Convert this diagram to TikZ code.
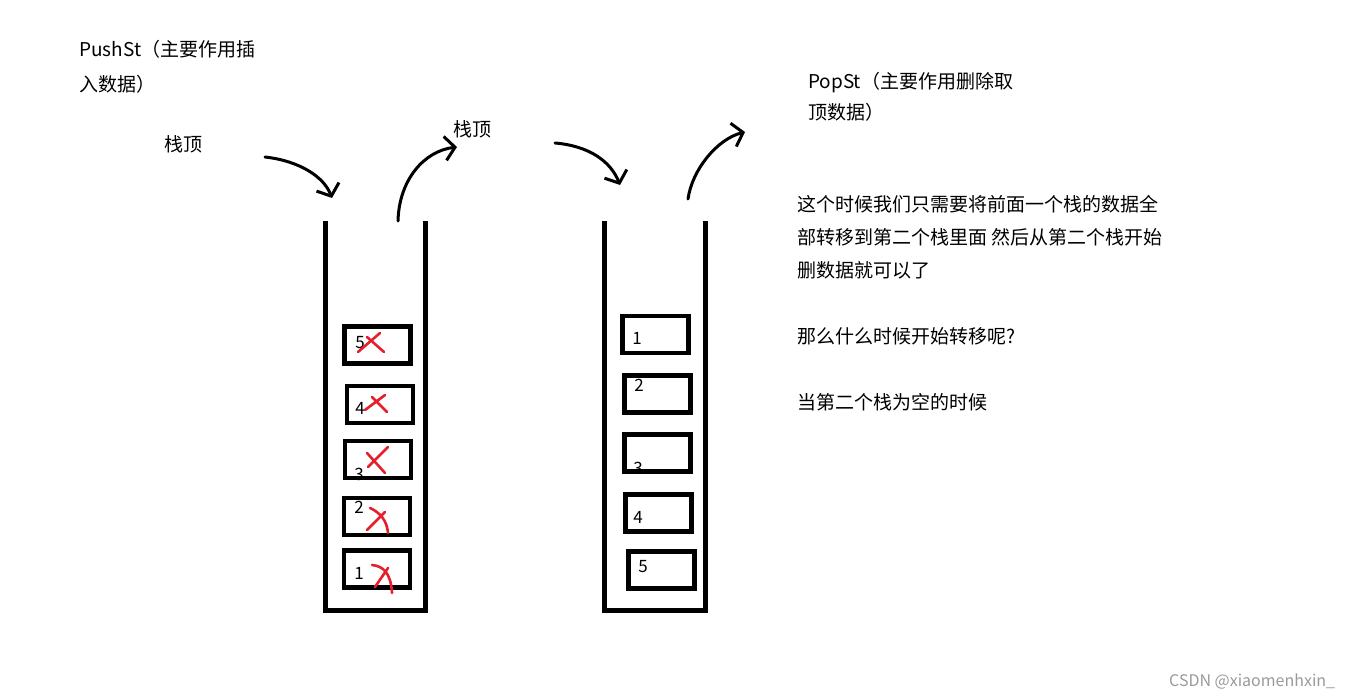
\documentclass[tikz,border=0pt]{standalone}
\usepackage{fontspec}
\usetikzlibrary{arrows.meta, calc}
\newfontfamily\cjk{Noto Sans CJK SC}
\definecolor{markRed}{HTML}{E3202C}
\definecolor{markGray}{HTML}{9A9A9A}
\tikzset{
    wall/.style={line width=5pt, line join=miter},
    slot/.style={rectangle, draw=black, line width=4.5pt, minimum width=66pt, minimum height=37pt, inner sep=0pt},
    num/.style={font=\cjk\fontsize{17}{20}\selectfont, inner sep=0pt},
    note/.style={font=\cjk\fontsize{19}{33}\selectfont, align=left, inner sep=0pt, anchor=base west},
    arrow/.style={-{Straight Barb[length=10pt, width=24pt]}, line width=3pt, line cap=round},
    xmark/.style={draw=markRed, line width=2.6pt, line cap=round},
}

\begin{document}
\begin{tikzpicture}[x=1pt, y=-1pt]
    \useasboundingbox (0,0) rectangle (1356,692);

    % titles and notes (base = last line)
    \node[note, font=\cjk\fontsize{19}{35}\selectfont] (pushTitle) at (79,92) {PushSt（主要作用插\\入数据）};
    \node[note, font=\cjk\fontsize{19}{31}\selectfont] (popTitle) at (808,120) {PopSt（主要作用删除取\\顶数据）};
    \node[note] (topIn) at (164,152) {栈顶};
    \node[note] (topOut) at (453,137) {栈顶};
    \node[note] (explain) at (797,409) {这个时候我们只需要将前面一个栈的数据全\\部转移到第二个栈里面 然后从第二个栈开始\\删数据就可以了\\[33pt]那么什么时候开始转移呢?\\[33pt]当第二个栈为空的时候};
    \node[font=\cjk\fontsize{16}{18}\selectfont, text=markGray, anchor=west, inner sep=0pt] (mark) at (1169,682) {CSDN @xiaomenhxin\_};

    % the two stacks
    \draw[wall] (325,221) -- (325,610) -- (425,610) -- (425,221);
    \draw[wall] (604,221) -- (604,610) -- (705,610) -- (705,221);

    % push stack
    \node[slot] (push5) at (377.5,345) {};
    \node[slot] (push4) at (380,404.5) {};
    \node[slot] (push3) at (378,459.5) {};
    \node[slot] (push2) at (377,516.5) {};
    \node[slot] (push1) at (377,569) {};
    \node[num] at (360,343) {5};
    \node[num] at (360,408) {4};
    \begin{scope}
        \clip (push3.south west) rectangle (push3.north east);
        \node[num] at (359,474) {3};
    \end{scope}
    \node[num] at (359,507) {2};
    \node[num] at (359,573) {1};

    % pop stack
    \node[slot] (pop1) at (655.5,334.5) {};
    \node[slot] (pop2) at (657.5,394) {};
    \node[slot] (pop3) at (657.5,453) {};
    \node[slot] (pop4) at (658.5,513) {};
    \node[slot] (pop5) at (661.5,570) {};
    \node[num] at (637,338) {1};
    \node[num] at (639,385) {2};
    \begin{scope}
        \clip (pop3.south west) rectangle (pop3.north east);
        \node[num] at (638,468) {3};
    \end{scope}
    \node[num] at (638,517) {4};
    \node[num] at (643,567) {5};

    % crossed out
    \draw[xmark, shift={(push5)}] (-19.5,7) -- (2.5,-12) (-10.5,-8) -- (6.5,7);
    \draw[xmark, shift={(push4)}] (-15,5.5) -- (5,-9.5) (-8,-7.5) -- (7,7.5);
    \draw[xmark, shift={(push3)}] (-10,7.5) -- (10,-12.5) (-11,-6.5) -- (7,13.5);
    \draw[xmark, shift={(push2)}] (-7,-8.5) .. controls (3,-4) and (10,4) .. (11,16.5) (8,-4.5) -- (-10,13.5);
    \draw[xmark, shift={(push1)}] (-5,-4) .. controls (6,-3) and (14,4) .. (15,24) (11,-1) -- (-2,18);

    % arrows
    \coordinate (pushInA) at (265,157);
    \coordinate (pushInB) at (332,198);
    \coordinate (pushOutA) at (398,221);
    \coordinate (pushOutB) at (457,147);
    \coordinate (popInA) at (555,143);
    \coordinate (popInB) at (620,185);
    \coordinate (popOutA) at (688,199);
    \coordinate (popOutB) at (745,132);
    \draw[arrow] (pushInA) .. controls (300,161) and (324,177) .. (pushInB);
    \draw[arrow] (pushOutA) .. controls (399,180) and (424,151) .. (pushOutB);
    \draw[arrow] (popInA) .. controls (590,146) and (611,162) .. (popInB);
    \draw[arrow] (popOutA) .. controls (692,170) and (717,139) .. (popOutB);
\end{tikzpicture}
\end{document}
